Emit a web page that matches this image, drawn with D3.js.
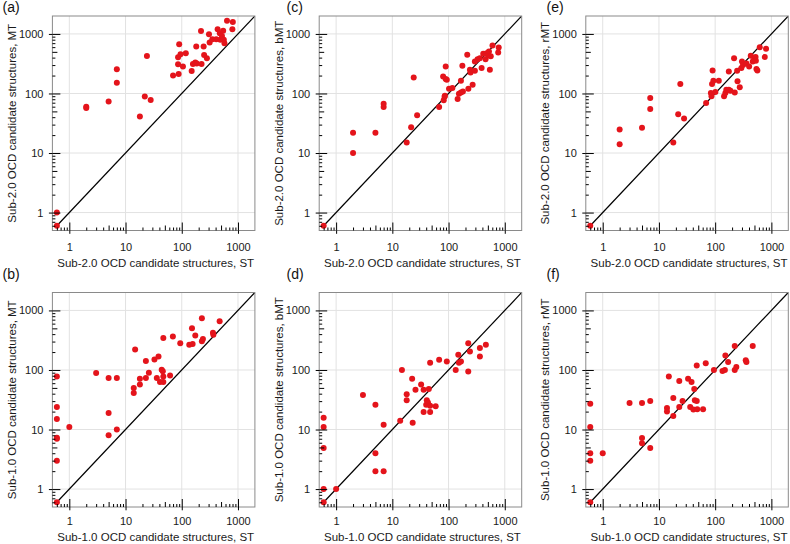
<!DOCTYPE html>
<html><head><meta charset="utf-8">
<script src="https://cdn.jsdelivr.net/npm/d3@7"></script>
<style>body{margin:0;background:#fff}svg{display:block}</style>
</head><body><svg id="chart" width="790" height="544"></svg>
<script>
// ---------- data (zero counts are drawn at 0.6) ----------
const panelLetters = ["(a)", "(b)", "(c)", "(d)", "(e)", "(f)"];
const xTitles = [
  "Sub-2.0 OCD candidate structures, ST", "Sub-1.0 OCD candidate structures, ST",
  "Sub-2.0 OCD candidate structures, ST", "Sub-1.0 OCD candidate structures, ST",
  "Sub-2.0 OCD candidate structures, ST", "Sub-1.0 OCD candidate structures, ST"];
const yTitles = [
  "Sub-2.0 OCD candidate structures, MT", "Sub-1.0 OCD candidate structures, MT",
  "Sub-2.0 OCD candidate structures, bMT", "Sub-1.0 OCD candidate structures, bMT",
  "Sub-2.0 OCD candidate structures, rMT", "Sub-1.0 OCD candidate structures, rMT"];
const majorTicks = [1, 10, 100, 1000];
const tickLabels = ["1", "10", "100", "1000"];
const axisDomain = [0.5, 2000];
const diagonal = [0.6, 2000];

const aST = [0.6,0.6,2,2,5,7,7,18,22,28,24,70,88,86,86,90,95,105,118,150,158,174,185,181,225,220,245,250,280,313,305,350,411,435,475,485,519,545,560,575,638,794,810];
const aMT = [1,0.6,60,57,73,255,152,41,89,78,427,200,213,310,405,670,455,283,473,239,313,330,320,612,313,1120,612,444,390,715,985,812,812,1200,1025,795,925,1135,795,697,1670,1200,1590];

const bST = [0.6,0.6,0.6,0.6,0.6,0.6,0.6,1,3,5,5,5,7,7,14,14,14.8,18,18,23,23,26,32.7,36,38.6,41,44,46,47,47,47,62,69.5,94,136,152,156,174,228,228,238,359,365,472];
const bMT = [0.6,3,7,7.3,15,24,78,11,89,73,19,8,73,10,50,41,221,71,57,141,73,90,150,73,169,63,101,95,63,78,343,81,365,282,265,504,272,380,742,305,330,421,390,661];

const cST = [0.6,2,2,5,7,7,18,21.6,24,27.6,68,82,85,86,80,89,89,93,102,117,145,153,166,166,180,176,215,225,240,246,268,294,294,328,360,387,414,455,475,507,523,543,563,605,763,780];
const cbMT = [0.6,22,10,22,67,59,15,27,186,43,59,77,88,92,193,285,175,170,120,123,81,99,164,104,108,292,446,120,250,225,140,240,345,377,390,267,463,377,475,435,507,250,420,639,488,590];

const dST = [0.6,0.6,0.6,0.6,0.6,1,3,5,5,5,7,7,13.8,14.8,18,18,22.5,23,25.8,32.5,36,36,41,40,43,44.5,47,47,47,59,68,93,134,149,153,166,224,224,240,361,361,461];
const dbMT = [0.6,1,4.9,11,15.8,1,38,26,4,2,2,12,14,100,39,31,71,13,46.5,57,46.5,19.6,31,26,28.5,48,132,25,19.6,24.7,148,139,100,180,132,139,282,94.5,205,233,169,265];

const eST = [0.6,2,2,5,7,7,18,22,24,28,69,84,86,88,90,93,101,116,144,152,158,175,187,175,217,223,246,250,274,293,300,313,360,402,430,466,494,523,530,542,563,621,762,804];
const erMT = [0.6,24.8,14,26.5,84,55,15,45,144,38,69,102,89.6,144,244,164,106,164,89.6,102,116,116,111,234,392,104,240,160,127,267,345,300,318,285,429,345,377,408,355,257,244,599,408,562];

const fST = [0.6,0.6,0.6,0.6,0.6,1,3,5,5,5,7,7,13.9,13.9,15,18,18,23,23,26.3,33,38,36,41,42.5,43.5,47,47,48,61,68,95,135,149,152,170,223,223,238,350,360,466];
const frMT = [0.6,3,4,11,27,4,28,28,7.2,5.9,30,4.9,22.9,20,78,34,16.8,65,24,30,71,62.6,24,21.7,48,31,30,119,22,22,130,100,96,100,175,136,100,252,112,145,136,252];

const panelX = [aST, bST, cST, dST, eST, fST];
const panelY = [aMT, bMT, cbMT, dbMT, erMT, frMT];

// ---------- layout ----------
const FONT = "'Liberation Sans', Arial, Helvetica, sans-serif";
const colX = [52.4, 319.2, 585.8];
const rowY = [16, 292.5];
const PW = 202.5, PH = 214.5;
const letterPos = [[2.5, 12], [2.5, 279], [286.5, 12], [286.5, 279], [546.5, 12], [546.5, 279]];
const xLabelPad = [9, 7];
const xTitleOff = [36.5, 33.5];

const svg = d3.select("#chart");
svg.append("rect").attr("width", 790).attr("height", 544).attr("fill", "#fff");

const minorTicks = [];
for (let e = -1; e <= 3; e++) for (let k = 2; k <= 9; k++) {
  const v = k * Math.pow(10, e);
  if (v > axisDomain[0] && v < axisDomain[1]) minorTicks.push(+v.toPrecision(3));
}
const midTicks = minorTicks.filter(v => String(v).startsWith("5"));
const smallTicks = minorTicks.filter(v => !String(v).startsWith("5"));

for (let i = 0; i < 6; i++) {
  const col = Math.floor(i / 2), row = i % 2;
  const x0 = colX[col], y0 = rowY[row];
  const g = svg.append("g").attr("transform", `translate(${x0},${y0})`);
  const xs = d3.scaleLog().domain(axisDomain).range([0, PW]);
  const ys = d3.scaleLog().domain(axisDomain).range([PH, 0]);

  const clipId = "clip" + i;
  g.append("clipPath").attr("id", clipId).append("rect").attr("width", PW).attr("height", PH);

  // grid
  g.append("g").selectAll("line.v").data(majorTicks).join("line")
    .attr("x1", d => xs(d)).attr("x2", d => xs(d)).attr("y1", 0).attr("y2", PH)
    .attr("stroke", "#e2e2e2").attr("stroke-width", 1);
  g.append("g").selectAll("line.h").data(majorTicks).join("line")
    .attr("y1", d => ys(d)).attr("y2", d => ys(d)).attr("x1", 0).attr("x2", PW)
    .attr("stroke", "#e2e2e2").attr("stroke-width", 1);

  // diagonal
  g.append("line").attr("clip-path", `url(#${clipId})`)
    .attr("x1", xs(diagonal[0])).attr("y1", ys(diagonal[0]))
    .attr("x2", xs(diagonal[1])).attr("y2", ys(diagonal[1]))
    .attr("stroke", "#000").attr("stroke-width", 1.2);

  // points
  const pts = panelX[i].map((v, j) => [v, panelY[i][j]]);
  g.append("g").selectAll("circle").data(pts).join("circle")
    .attr("cx", d => xs(d[0])).attr("cy", d => ys(d[1])).attr("r", 3)
    .attr("fill", "#e4141b");

  // box
  g.append("rect").attr("width", PW).attr("height", PH)
    .attr("fill", "none").attr("stroke", "#8a8a8a").attr("stroke-width", 1);

  const styleAxis = sel => {
    sel.select(".domain").remove();
    sel.selectAll("line").attr("stroke", "#000").attr("stroke-width", 1);
    sel.selectAll("text").attr("font-family", FONT).attr("font-size", 11).attr("fill", "#1a1a1a");
  };

  // left axis: outward major ticks + labels
  g.append("g").call(d3.axisLeft(ys).tickValues(majorTicks).tickFormat((d, k) => tickLabels[k]).tickSize(3.5).tickPadding(5.5)).call(styleAxis);
  g.append("g").call(d3.axisLeft(ys).tickValues(majorTicks).tickFormat("").tickSize(-8)).call(styleAxis);
  g.append("g").call(d3.axisLeft(ys).tickValues(midTicks).tickFormat("").tickSize(-5)).call(styleAxis);
  g.append("g").call(d3.axisLeft(ys).tickValues(smallTicks).tickFormat("").tickSize(-3)).call(styleAxis);

  // bottom axis
  const gb = g.append("g").attr("transform", `translate(0,${PH})`);
  gb.append("g").call(d3.axisBottom(xs).tickValues(majorTicks).tickFormat((d, k) => tickLabels[k]).tickSize(3.3).tickPadding(xLabelPad[row])).call(styleAxis);
  gb.append("g").call(d3.axisBottom(xs).tickValues(majorTicks).tickFormat("").tickSize(-8)).call(styleAxis);
  gb.append("g").call(d3.axisBottom(xs).tickValues(midTicks).tickFormat("").tickSize(-5)).call(styleAxis);
  gb.append("g").call(d3.axisBottom(xs).tickValues(smallTicks).tickFormat("").tickSize(-3)).call(styleAxis);

  // titles
  g.append("text").attr("x", PW / 2 + 2).attr("y", PH + xTitleOff[row])
    .attr("text-anchor", "middle").attr("font-family", FONT).attr("font-size", 11.5)
    .attr("fill", "#1a1a1a").text(xTitles[i]);
  g.append("text").attr("transform", `translate(-36.5,${PH / 2}) rotate(-90)`)
    .attr("text-anchor", "middle").attr("font-family", FONT).attr("font-size", 11.5)
    .attr("fill", "#1a1a1a").text(yTitles[i]);

  svg.append("text").attr("x", letterPos[i][0]).attr("y", letterPos[i][1])
    .attr("font-family", FONT).attr("font-size", 14).attr("fill", "#111").text(panelLetters[i]);
}
</script>
</body></html>
